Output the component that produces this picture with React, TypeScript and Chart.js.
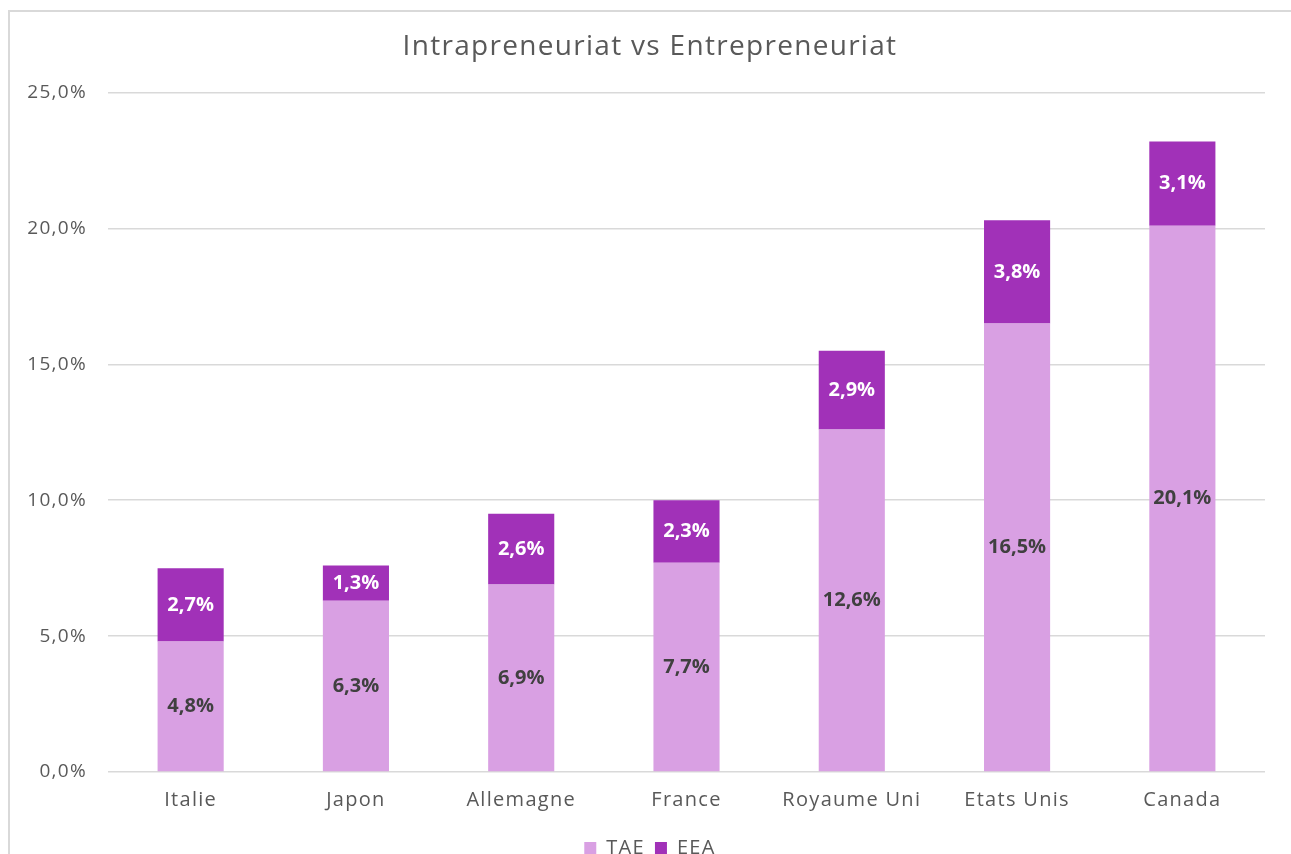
import React, { useEffect, useRef } from "react";
import { Chart, registerables } from "chart.js";

Chart.register(...registerables);

const categories = ["Italie", "Japon", "Allemagne", "France", "Royaume Uni", "Etats Unis", "Canada"];
const taeValues = [4.8, 6.3, 6.9, 7.7, 12.6, 16.5, 20.1];
const eeaValues = [2.7, 1.3, 2.6, 2.3, 2.9, 3.8, 3.1];
const yTickValues = [0, 5, 10, 15, 20, 25];
const titleText = "Intrapreneuriat vs Entrepreneuriat";
const seriesNames = ["TAE", "EEA"];

const FONT = '"Open Sans", sans-serif';
const fmt = (v: number) => v.toFixed(1).replace(".", ",") + "%";

const spacing = {
  id: "spacing",
  beforeUpdate(chart: any) {
    chart.ctx.letterSpacing = "1.3px";
  },
  beforeDraw(chart: any) {
    chart.ctx.letterSpacing = "1.3px";
  },
};

const barLabels = {
  id: "barLabels",
  afterDatasetsDraw(chart: any) {
    const ctx = chart.ctx;
    chart.data.datasets.forEach((ds: any, i: number) => {
      const meta = chart.getDatasetMeta(i);
      meta.data.forEach((el: any, j: number) => {
        const { x, y, base } = el.getProps(["x", "y", "base"], true);
        ctx.save();
        ctx.letterSpacing = "0px";
        ctx.fillStyle = i === 0 ? "#404040" : "#FFFFFF";
        ctx.font = `bold 20px ${FONT}`;
        ctx.textAlign = "center";
        ctx.textBaseline = "middle";
        ctx.fillText(fmt(ds.data[j]), x, (y + base) / 2);
        ctx.restore();
      });
    });
  },
};

export default function App() {
  const ref = useRef<HTMLCanvasElement | null>(null);
  useEffect(() => {
    if (!ref.current) return;
    const chart = new Chart(ref.current, {
      type: "bar",
      data: {
        labels: categories,
        datasets: [
          { label: seriesNames[0], data: taeValues, backgroundColor: "#D9A0E3", borderWidth: 0 },
          { label: seriesNames[1], data: eeaValues, backgroundColor: "#A131B8", borderWidth: 0 },
        ],
      },
      options: {
        responsive: false,
        animation: false,
        devicePixelRatio: 1,
        layout: { padding: { left: 0, right: 0, top: 0, bottom: 12 } },
        datasets: { bar: { categoryPercentage: 1, barPercentage: 0.4 } },
        plugins: {
          tooltip: { enabled: false },
          title: {
            display: true,
            text: titleText,
            color: "#595959",
            font: { family: FONT, size: 28, weight: "normal" },
            padding: { top: 30, bottom: 29 },
          },
          legend: {
            position: "bottom",
            labels: {
              color: "#595959",
              font: { family: FONT, size: 20 },
              boxWidth: 12,
              boxHeight: 12,
              padding: 10,
            },
          },
        },
        scales: {
          x: {
            stacked: true,
            grid: { display: false, drawTicks: false },
            border: { display: false },
            ticks: { color: "#595959", font: { family: FONT, size: 20 }, padding: 16 },
            afterFit: (s: any) => { s.height = 56; },
          },
          y: {
            stacked: true,
            min: 0,
            max: 25,
            afterBuildTicks: (s: any) => { s.ticks = yTickValues.map((v) => ({ value: v })); },
            grid: { color: "#D9D9D9", lineWidth: 1.5, drawTicks: false },
            border: { display: false },
            ticks: {
              color: "#595959",
              font: { family: FONT, size: 19 },
              padding: 21,
              callback: (v: any) => fmt(Number(v)),
            },
            afterFit: (s: any) => { s.width = 108; },
          },
          yRight: {
            position: "right",
            min: 0,
            max: 25,
            grid: { display: false, drawTicks: false },
            border: { display: false },
            ticks: { display: false },
            afterFit: (s: any) => { s.width = 35; },
          },
        },
      },
      plugins: [spacing, barLabels],
    });
    return () => chart.destroy();
  }, []);

  return (
    <div style={{ position: "fixed", left: 0, top: 0, width: 1291, height: 854, overflow: "hidden", background: "#fff" }}>
      <div style={{ position: "absolute", left: 8, top: 10, width: 1400, height: 1000, border: "2px solid #D9D9D9", boxSizing: "border-box" }} />
      <canvas ref={ref} width={1300} height={880} style={{ position: "absolute", left: 0, top: 0 }} />
    </div>
  );
}
